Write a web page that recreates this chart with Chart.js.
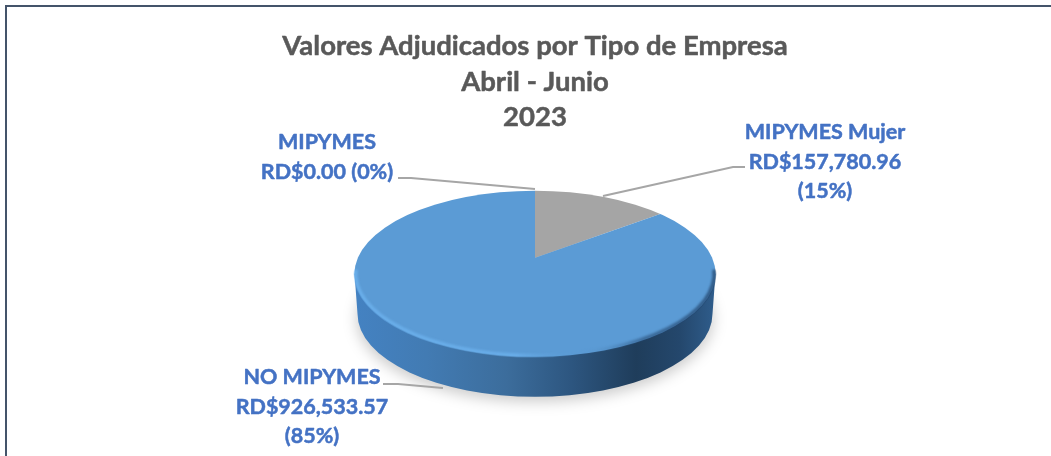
<!DOCTYPE html>
<html>
<head>
<meta charset="utf-8">
<script src="https://cdn.jsdelivr.net/npm/chart.js@4"></script>
<style>
  body { margin: 0; background: #fff; }
  #frame { position: absolute; left: 5px; top: 5px; right: 0; bottom: 0; border-left: 2px solid #44546a; border-top: 2px solid #44546a; }
  #Chart { position: absolute; left: 0; top: 0; }
</style>
</head>
<body>
<div id="frame"></div>
<canvas id="Chart" width="1051" height="456"></canvas>
<script>
const categories = ["MIPYMES", "MIPYMES Mujer", "NO MIPYMES"];
const values = [0, 157780.96, 926533.57];
const sliceColors = ["#4472c4", "#a5a5a5", "#5b9bd5"];
const titleLines = ["Valores Adjudicados por Tipo de Empresa", "Abril - Junio", "2023"];
const dataLabels = [
  ["MIPYMES", "RD$0.00 (0%)"],
  ["MIPYMES Mujer", "RD$157,780.96", "(15%)"],
  ["NO MIPYMES", "RD$926,533.57", "(85%)"],
];

// where each label and its leader line sit on the page
const labelPlaces = [
  { x: 327, y: 142, line: [[398, 178], [411, 178], [535, 189]] },
  { x: 825, y: 132, line: [[603, 196], [733, 167], [745, 167]] },
  { x: 312, y: 377, line: [[383, 384], [398, 384], [443, 388]] },
];

// look of the tilted pie, relative to the pie's own centre
const tilt = { squash: 0.454, dropY: 16, rx: 180.5, ry: 83, depth: 40, inset: 3 };

const sideColors = [
  [0, "#4482c2"], [0.2, "#427bb3"], [0.42, "#3c6d9c"],
  [0.6, "#2d5680"], [0.78, "#1f3d5b"], [0.9, "#24476c"], [1, "#2f5d8c"],
];

const titleFont = { family: "Lato", size: 27.5, weight: "bold", lineHeight: 35.5 };
const titlePadding = { top: 28.5, bottom: 0 };

const pie3d = {
  id: "pie3d",
  beforeDatasetsDraw(chart) {
    const c = chart.ctx;
    const arc = chart.getDatasetMeta(0).data[0];
    const cx = arc.x;
    const cy = arc.y + tilt.dropY;

    // soft shadow under the pie
    c.save();
    c.filter = "blur(7px)";
    c.fillStyle = "rgba(0,0,0,0.2)";
    c.beginPath();
    c.ellipse(cx, cy + tilt.depth + 5, tilt.rx - 2, tilt.ry, 0, 0, Math.PI * 2);
    c.fill();
    c.restore();

    // side wall
    const grad = c.createLinearGradient(cx - tilt.rx, 0, cx + tilt.rx, 0);
    sideColors.forEach((s) => grad.addColorStop(s[0], s[1]));
    c.fillStyle = grad;
    c.beginPath();
    c.moveTo(cx - tilt.rx, cy);
    c.lineTo(cx - tilt.rx + tilt.inset, cy + tilt.depth);
    c.ellipse(cx, cy + tilt.depth, tilt.rx - tilt.inset, tilt.ry, 0, Math.PI, 0, true);
    c.lineTo(cx + tilt.rx, cy);
    c.closePath();
    c.fill();

    // the library draws its slices inside the top face
    c.save();
    c.beginPath();
    c.ellipse(cx, cy, tilt.rx, tilt.ry, 0, 0, Math.PI * 2);
    c.clip();
    c.translate(arc.x, arc.y);
    c.scale(1, tilt.squash);
    c.translate(-arc.x, -arc.y);
  },
  afterDatasetsDraw(chart) {
    const c = chart.ctx;
    c.restore();

    const arc = chart.getDatasetMeta(0).data[0];
    const cx = arc.x;
    const cy = arc.y + tilt.dropY;

    // bevel along the lower rim of the top face
    c.save();
    c.beginPath();
    c.ellipse(cx, cy, tilt.rx + 1, tilt.ry + 1, 0, 0, Math.PI * 2);
    c.clip();
    const rim = c.createLinearGradient(cx - tilt.rx, 0, cx + tilt.rx, 0);
    rim.addColorStop(0, "rgba(110,180,240,0.75)");
    rim.addColorStop(0.45, "rgba(110,180,240,0.7)");
    rim.addColorStop(0.62, "rgba(91,155,213,0)");
    rim.addColorStop(0.8, "rgba(35,70,110,0.55)");
    rim.addColorStop(1, "rgba(35,70,110,0.75)");
    c.filter = "blur(1px)";
    c.strokeStyle = rim;
    c.lineWidth = 4;
    c.beginPath();
    c.ellipse(cx, cy, tilt.rx - 1, tilt.ry - 1, 0, -0.05, Math.PI + 0.05);
    c.stroke();
    c.restore();
  },
  afterDraw(chart) {
    const c = chart.ctx;
    c.save();
    c.strokeStyle = "#a6a6a6";
    c.lineWidth = 2;
    labelPlaces.forEach((p) => {
      c.beginPath();
      p.line.forEach((pt, i) => (i ? c.lineTo(pt[0], pt[1]) : c.moveTo(pt[0], pt[1])));
      c.stroke();
    });

    c.textAlign = "center";
    c.textBaseline = "middle";
    c.lineJoin = "round";

    // the reference text is heavier than Lato bold, so thicken it a little
    c.fillStyle = c.strokeStyle = "#4472c4";
    c.lineWidth = 0.5;
    c.font = "bold 21.5px Lato";
    dataLabels.forEach((lines, i) => {
      lines.forEach((text, j) => {
        c.fillText(text, labelPlaces[i].x, labelPlaces[i].y + j * 29.7);
        c.strokeText(text, labelPlaces[i].x, labelPlaces[i].y + j * 29.7);
      });
    });

    const box = chart.titleBlock;
    c.strokeStyle = "#595959";
    c.lineWidth = 0.5;
    c.font = "bold " + titleFont.size + "px " + titleFont.family;
    titleLines.forEach((text, i) => {
      const y = box.top + titlePadding.top + titleFont.lineHeight * (i + 0.5);
      c.strokeText(text, (box.left + box.right) / 2, y);
    });
    c.restore();
  },
};

new Chart(document.getElementById("Chart"), {
  type: "pie",
  data: {
    labels: categories,
    datasets: [
      {
        data: values,
        backgroundColor: sliceColors,
        borderWidth: 0,
      },
    ],
  },
  options: {
    responsive: false,
    animation: false,
    radius: 230,
    layout: {
      padding: { left: 19, right: 0, top: 0, bottom: 75.5 },
    },
    plugins: {
      legend: { display: false },
      tooltip: { enabled: false },
      title: {
        display: true,
        text: titleLines,
        color: "#595959",
        font: { family: titleFont.family, size: titleFont.size, weight: titleFont.weight, lineHeight: titleFont.lineHeight + "px" },
        padding: titlePadding,
      },
    },
  },
  plugins: [pie3d],
});
</script>
</body>
</html>
